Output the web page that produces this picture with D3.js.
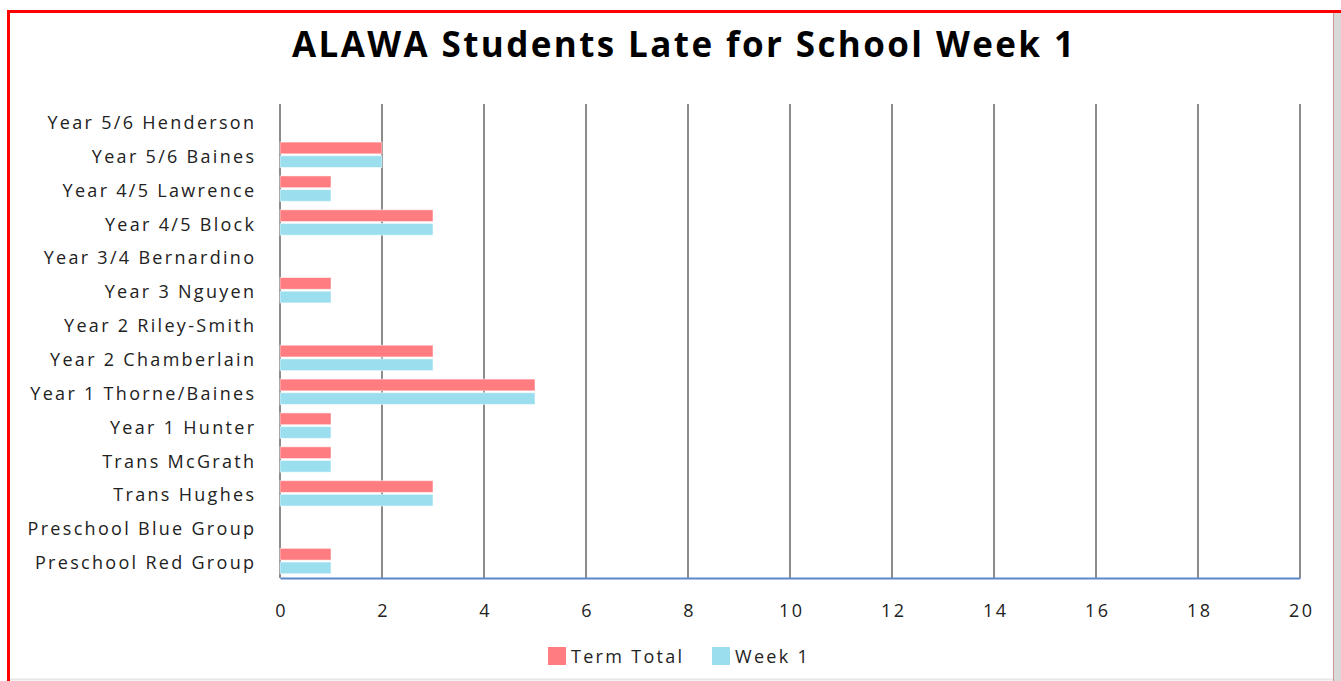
<!DOCTYPE html>
<html><head><meta charset="utf-8">
<script src="https://cdn.jsdelivr.net/npm/d3@7"></script>
<style>html,body{margin:0;padding:0;background:#fff;overflow:hidden}</style>
</head><body>
<svg id="chart" width="1341" height="681"></svg>
<script>
const categories = ["Preschool Red Group","Preschool Blue Group","Trans Hughes","Trans McGrath","Year 1 Hunter","Year 1 Thorne/Baines","Year 2 Chamberlain","Year 2 Riley-Smith","Year 3 Nguyen","Year 3/4 Bernardino","Year 4/5 Block","Year 4/5 Lawrence","Year 5/6 Baines","Year 5/6 Henderson"];
const termTotal = [1,0,3,1,1,5,3,0,1,0,3,1,2,0];
const week1 =     [1,0,3,1,1,5,3,0,1,0,3,1,2,0];
const seriesNames = ["Term Total","Week 1"];
const xTicks = [0,2,4,6,8,10,12,14,16,18,20];
const title = "ALAWA Students Late for School Week 1";

const colors = ["#FF7C80","#9BDFEF"];
const font = "'Open Sans', sans-serif";
const ls = 2.3;
const svg = d3.select("#chart");

// frame
svg.append("line").attr("x1",8).attr("x2",1341).attr("y1",11.5).attr("y2",11.5).attr("stroke","#ff0000").attr("stroke-width",3);
svg.append("line").attr("x1",8.5).attr("x2",8.5).attr("y1",10).attr("y2",681).attr("stroke","#ff0000").attr("stroke-width",3);
svg.append("rect").attr("x",1333).attr("y",13).attr("width",8).attr("height",668).attr("fill","#d9d9d9");
svg.append("line").attr("x1",1333.5).attr("x2",1333.5).attr("y1",13).attr("y2",681).attr("stroke","#c99").attr("stroke-width",1);
svg.append("line").attr("x1",10).attr("x2",1333).attr("y1",679.5).attr("y2",679.5).attr("stroke","#e6e6e6").attr("stroke-width",2);

const pLeft = 280, pRight = 1300, pTop = 104, pBottom = 578;
const x = d3.scaleLinear().domain([0,20]).range([pLeft,pRight]);
const y = d3.scaleBand().domain(categories.slice().reverse()).range([pTop,pBottom]).paddingInner(0.25).paddingOuter(0.125);
const ySub = d3.scaleBand().domain(seriesNames).range([0,y.bandwidth()]).paddingInner(0.14);

svg.append("text").attr("x",683+ls/2).attr("y",57).attr("text-anchor","middle")
  .attr("font-family",font).attr("font-weight","bold").attr("font-size",35).attr("letter-spacing",ls+0.1).attr("fill","#000").text(title);

// gridlines
svg.append("g").selectAll("line").data(xTicks).join("line")
  .attr("x1",d=>x(d)).attr("x2",d=>x(d)).attr("y1",pTop).attr("y2",pBottom)
  .attr("stroke","#8c8c8c").attr("stroke-width",2);

// bars
const data = categories.map((c,i)=>({c, vals:[termTotal[i],week1[i]]}));
const g = svg.append("g");
data.forEach(d=>{
  d.vals.forEach((v,j)=>{
    if(v<=0) return;
    g.append("rect").attr("x",x(0)).attr("y",y(d.c)+ySub(seriesNames[j]))
      .attr("width",x(v)-x(0)).attr("height",ySub.bandwidth())
      .attr("fill",colors[j]).attr("stroke","#fff").attr("stroke-opacity",0.5).attr("stroke-width",1);
  });
});

// x axis
const xAxis = svg.append("g").attr("transform",`translate(0,${pBottom})`)
  .call(d3.axisBottom(x).tickValues(xTicks).tickSize(0).tickPadding(26));
xAxis.select(".domain").attr("stroke","#5b87c9").attr("stroke-width",2);
xAxis.selectAll("text").attr("font-family",font).attr("font-size",18).attr("letter-spacing",ls).attr("dx",ls/2).attr("fill","#222");

// y axis
const yAxis = svg.append("g").attr("transform",`translate(${pLeft},0)`)
  .call(d3.axisLeft(y).tickSize(0).tickPadding(26-ls));
yAxis.select(".domain").remove();
yAxis.selectAll("text").attr("font-family",font).attr("font-size",18).attr("letter-spacing",ls).attr("dy","0.45em").attr("fill","#222");

// legend
const legend = svg.append("g");
const lx = [548, 712];
seriesNames.forEach((s,i)=>{
  legend.append("rect").attr("x",lx[i]).attr("y",647).attr("width",18).attr("height",18).attr("fill",colors[i]);
  legend.append("text").attr("x",lx[i]+23).attr("y",663).attr("font-family",font).attr("font-size",18).attr("letter-spacing",ls).attr("fill","#222").text(s);
});
</script>
</body></html>
